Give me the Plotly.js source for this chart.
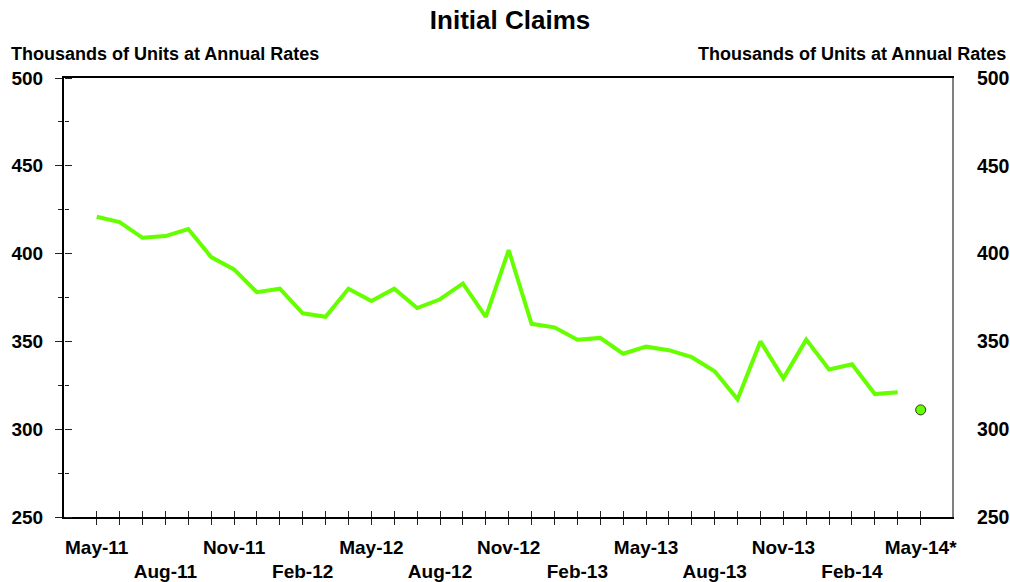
<!DOCTYPE html>
<html>
<head>
<meta charset="utf-8">
<script src="https://cdn.plot.ly/plotly-3.0.1.min.js"></script>
<style>html,body{margin:0;padding:0;background:#fff;}#chart{width:1010px;height:582px;}</style>
</head>
<body>
<div id="chart"></div>
<script>
const months = ["May-11","Jun-11","Jul-11","Aug-11","Sep-11","Oct-11","Nov-11","Dec-11",
  "Jan-12","Feb-12","Mar-12","Apr-12","May-12","Jun-12","Jul-12","Aug-12","Sep-12","Oct-12","Nov-12","Dec-12",
  "Jan-13","Feb-13","Mar-13","Apr-13","May-13","Jun-13","Jul-13","Aug-13","Sep-13","Oct-13","Nov-13","Dec-13",
  "Jan-14","Feb-14","Mar-14","Apr-14"];
const claims = [421,418,409,410,414,398,391,378,
  380,366,364,380,373,380,369,374,383,364,402,360,
  358,351,352,343,347,345,341,333,317,350,329,351,
  334,337,320,321];
const latestMonth = "May-14*";
const latestValue = 311;
const row1Labels = ["May-11","Nov-11","May-12","Nov-12","May-13","Nov-13","May-14*"];
const row2Labels = ["Aug-11","Feb-12","Aug-12","Feb-13","Aug-13","Feb-14"];
const yTicks = [250,300,350,400,450,500];

const allCats = months.concat([latestMonth]);
const row1Text = allCats.map(c => row1Labels.includes(c) ? c : "");
const row2Text = allCats.map(c => row2Labels.includes(c) ? c : "");

const FONT = "Liberation Sans, Arial, sans-serif";
const green = "#66ff00";
const xRange = [-1.43, allCats.length - 1 + 1.37];
const yRange = [250, 500];

const ghost = (xa, ya) => ({x: months, y: claims, type: "scatter", mode: "lines",
  line: {color: "rgba(0,0,0,0)", width: 0}, xaxis: xa, yaxis: ya, hoverinfo: "skip"});

const traces = [
  ghost("x2", "y2"),
  ghost("x3", "y3"),
  {x: months, y: claims, type: "scatter", mode: "lines",
   line: {color: green, width: 4}, xaxis: "x", yaxis: "y", hoverinfo: "x+y"},
  {x: [latestMonth], y: [latestValue], type: "scatter", mode: "markers",
   marker: {color: green, size: 10, line: {color: "#333333", width: 1}}, xaxis: "x", yaxis: "y"}
];

const tf = {family: FONT, size: 19, color: "#000", weight: "bold"};
const catAxis = {type: "category", categoryorder: "array", categoryarray: allCats,
  range: xRange, tickmode: "array", tickvals: allCats, showgrid: false, zeroline: false, tickangle: 0};

const layout = {
  width: 1010, height: 582,
  margin: {l: 64, r: 58, t: 78, b: 65},
  paper_bgcolor: "#ffffff", plot_bgcolor: "#ffffff",
  showlegend: false,
  font: {family: FONT, color: "#000", size: 19},
  title: {text: "<b>Initial Claims</b>", x: 0.505, xanchor: "center", y: 0.965, yanchor: "middle",
          font: {family: FONT, size: 26, color: "#000"}},
  xaxis: Object.assign({}, catAxis, {ticktext: row1Text,
    ticks: "outside", ticklen: 6, tickwidth: 1, tickcolor: "#222",
    showline: true, linecolor: "#000", linewidth: 2, mirror: true,
    ticklabelstandoff: 6, tickfont: tf}),
  xaxis2: Object.assign({}, catAxis, {ticktext: row2Text,
    overlaying: "x", anchor: "y", side: "bottom",
    ticks: "", ticklabelstandoff: 41, showline: false, tickfont: tf}),
  xaxis3: Object.assign({}, catAxis, {
    overlaying: "x", anchor: "free", position: 0, side: "top",
    ticks: "outside", ticklen: 6, tickwidth: 1, tickcolor: "#222",
    showticklabels: false, showline: false}),
  yaxis: {range: yRange, tickmode: "array", tickvals: yTicks,
    ticks: "outside", ticklen: 7, tickwidth: 1, tickcolor: "#222",
    minor: {dtick: 25, tick0: 250, ticks: "outside", ticklen: 4, tickcolor: "#222", tickwidth: 1, showgrid: false},
    showline: true, linecolor: "#000", linewidth: 2,
    showgrid: false, zeroline: false, ticklabelstandoff: 8,
    tickfont: tf},
  yaxis2: {range: yRange, overlaying: "y", anchor: "free", position: 0, side: "right",
    tickmode: "array", tickvals: yTicks,
    ticks: "outside", ticklen: 7, tickwidth: 1, tickcolor: "#222",
    minor: {dtick: 25, tick0: 250, ticks: "outside", ticklen: 4, tickcolor: "#222", tickwidth: 1, showgrid: false},
    showticklabels: false, showline: false, showgrid: false, zeroline: false},
  yaxis3: {range: yRange, overlaying: "y", anchor: "x", side: "right",
    tickmode: "array", tickvals: yTicks, ticks: "",
    showline: true, linecolor: "#808080", linewidth: 2,
    showgrid: false, zeroline: false, ticklabelstandoff: 19,
    tickfont: {family: FONT, size: 19.5, color: "#000", weight: "bold"}},
  annotations: [
    {text: "<b>Thousands of Units at Annual Rates</b>", xref: "paper", yref: "paper",
     x: -0.062, y: 1.055, xanchor: "left", yanchor: "middle", showarrow: false,
     font: {family: FONT, size: 18, color: "#000"}},
    {text: "<b>Thousands of Units at Annual Rates</b>", xref: "paper", yref: "paper",
     x: 1.063, y: 1.055, xanchor: "right", yanchor: "middle", showarrow: false,
     font: {family: FONT, size: 18, color: "#000"}}
  ]
};

Plotly.newPlot("chart", traces, layout, {displayModeBar: false, staticPlot: true});
</script>
</body>
</html>
